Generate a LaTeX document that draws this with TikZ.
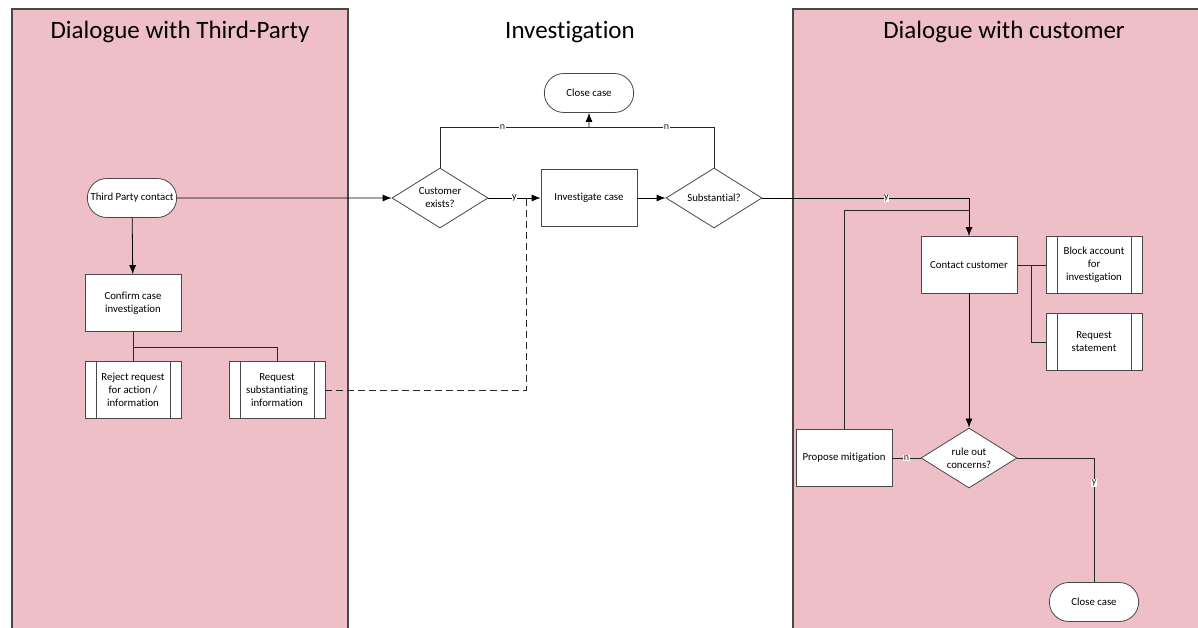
\documentclass[tikz,border=0pt]{standalone}
\usepackage{fontspec}
\setmainfont{Carlito}[Ligatures=NoCommon]
\usepackage{tikz}
\usetikzlibrary{arrows.meta,shapes,positioning}
\definecolor{laneFill}{RGB}{239,191,199}
\definecolor{laneLine}{RGB}{72,72,72}
\tikzstyle{lane}=[fill=laneFill, draw=laneLine, line width=1.3pt]
\tikzstyle{lanetitle}=[font=\fontsize{25}{29}\selectfont, color=black]
\tikzstyle{flowarrow}=[-{Latex[length=9pt,width=7pt]}, line width=0.8pt, color=black]
\tikzstyle{flowline}=[line width=0.8pt, color=black!85]
\tikzstyle{procbox}=[rectangle, draw=laneLine, fill=white, line width=0.8pt, minimum width=96pt, minimum height=57pt, align=center, font=\fontsize{10.8}{13}\selectfont]
\tikzstyle{subproc}=[procbox, path picture={
    \draw[laneLine, line width=0.8pt]
      ([xshift=11pt]path picture bounding box.north west) -- ([xshift=11pt]path picture bounding box.south west)
      ([xshift=-11pt]path picture bounding box.north east) -- ([xshift=-11pt]path picture bounding box.south east);}]
\tikzstyle{terminal}=[rounded rectangle, draw=laneLine, fill=white, line width=0.8pt, minimum width=96pt, minimum height=39pt, align=center, font=\fontsize{10.8}{13}\selectfont]
\tikzstyle{decision}=[diamond, draw=laneLine, fill=white, line width=0.8pt, aspect=1.6, inner sep=0pt, minimum width=96pt, minimum height=60pt, align=center, font=\fontsize{10.8}{13}\selectfont]
\tikzstyle{branchlbl}=[fill=white, inner sep=0.6pt, font=\fontsize{10}{11}\selectfont]

\begin{document}
\begin{tikzpicture}[x=1pt, y=-1pt]
    \useasboundingbox (0,0) rectangle (1198,628);
    \clip (0,0) rectangle (1198,628);

    % --- raias ---
    \draw[lane] (12,9) rectangle (348,645);
    \draw[lane] (793,9) rectangle (1215,645);
    \node[lanetitle] (ttparty) at (180,32) {Dialogue with Third-Party};
    \node[lanetitle] (tinvest) at (570,32) {Investigation};
    \node[lanetitle] (tcust)   at (1004,32) {Dialogue with customer};

    % --- terceiro ---
    \node[terminal] (tpcontact) at (132,198) {Third Party contact};
    \node[procbox]  (confirm)   at (133,303) {Confirm case\\investigation};
    \node[subproc]  (reject)    at (133,390) {Reject request\\for action /\\information};
    \node[subproc]  (reqinfo)   at (277,390) {Request\\substantiating\\information};

    % --- investigacao ---
    \node[decision] (custexists) at (440,198) {Customer\\exists?};
    \node[terminal] (closetop)   at (589,93)  {Close case};
    \node[procbox]  (investigate) at (589,198) {Investigate case};
    \node[decision] (substantial) at (714,198) {Substantial?};

    % --- cliente ---
    \node[procbox]  (contact)   at (969,265)  {Contact customer};
    \node[subproc]  (block)     at (1094,265) {Block account\\for\\investigation};
    \node[subproc]  (reqstmt)   at (1094,342) {Request\\statement};
    \node[decision] (ruleout)   at (969,458)  {rule out\\concerns?};
    \node[procbox]  (mitigate)  at (844,458)  {Propose mitigation};
    \node[terminal] (closebot)  at (1094,602) {Close case};

    % pontos de juncao
    \coordinate (fork)     at (133,347);
    \coordinate (nmerge)   at (589,127);
    \coordinate (dashend)  at (526,198);
    \coordinate (loopjoin) at (969,210);
    \coordinate (branch)   at (1031,265);

    % --- conectores ---
    \draw[flowarrow] (tpcontact) -- (custexists);
    \draw[flowarrow] (tpcontact) -- (confirm);
    \draw[flowline] (confirm) -- (reject);
    \draw[flowline] (fork) -| (reqinfo);
    \draw[flowline, dash pattern=on 7pt off 4pt] (reqinfo) -| (dashend);

    \draw[flowarrow] (custexists) -- node[branchlbl] {y} (investigate);
    \draw[flowline] (custexists) |- node[branchlbl, pos=0.71] {n} (nmerge);
    \draw[flowline] (substantial) |- node[branchlbl, pos=0.69] {n} (nmerge);
    \draw[flowarrow] (nmerge) -- (closetop);
    \draw[flowarrow] (investigate) -- (substantial);

    \draw[flowarrow] (substantial) -| node[branchlbl, pos=0.3] {y} (contact);
    \draw[flowline] (mitigate) |- (loopjoin);
    \draw[flowline] (contact) -- (block);
    \draw[flowline] (branch) |- (reqstmt);
    \draw[flowarrow] (contact) -- (ruleout);
    \draw[flowline] (ruleout) -- node[branchlbl] {n} (mitigate);
    \draw[flowline] (ruleout) -| node[branchlbl, pos=0.6] {y} (closebot);
\end{tikzpicture}
\end{document}
